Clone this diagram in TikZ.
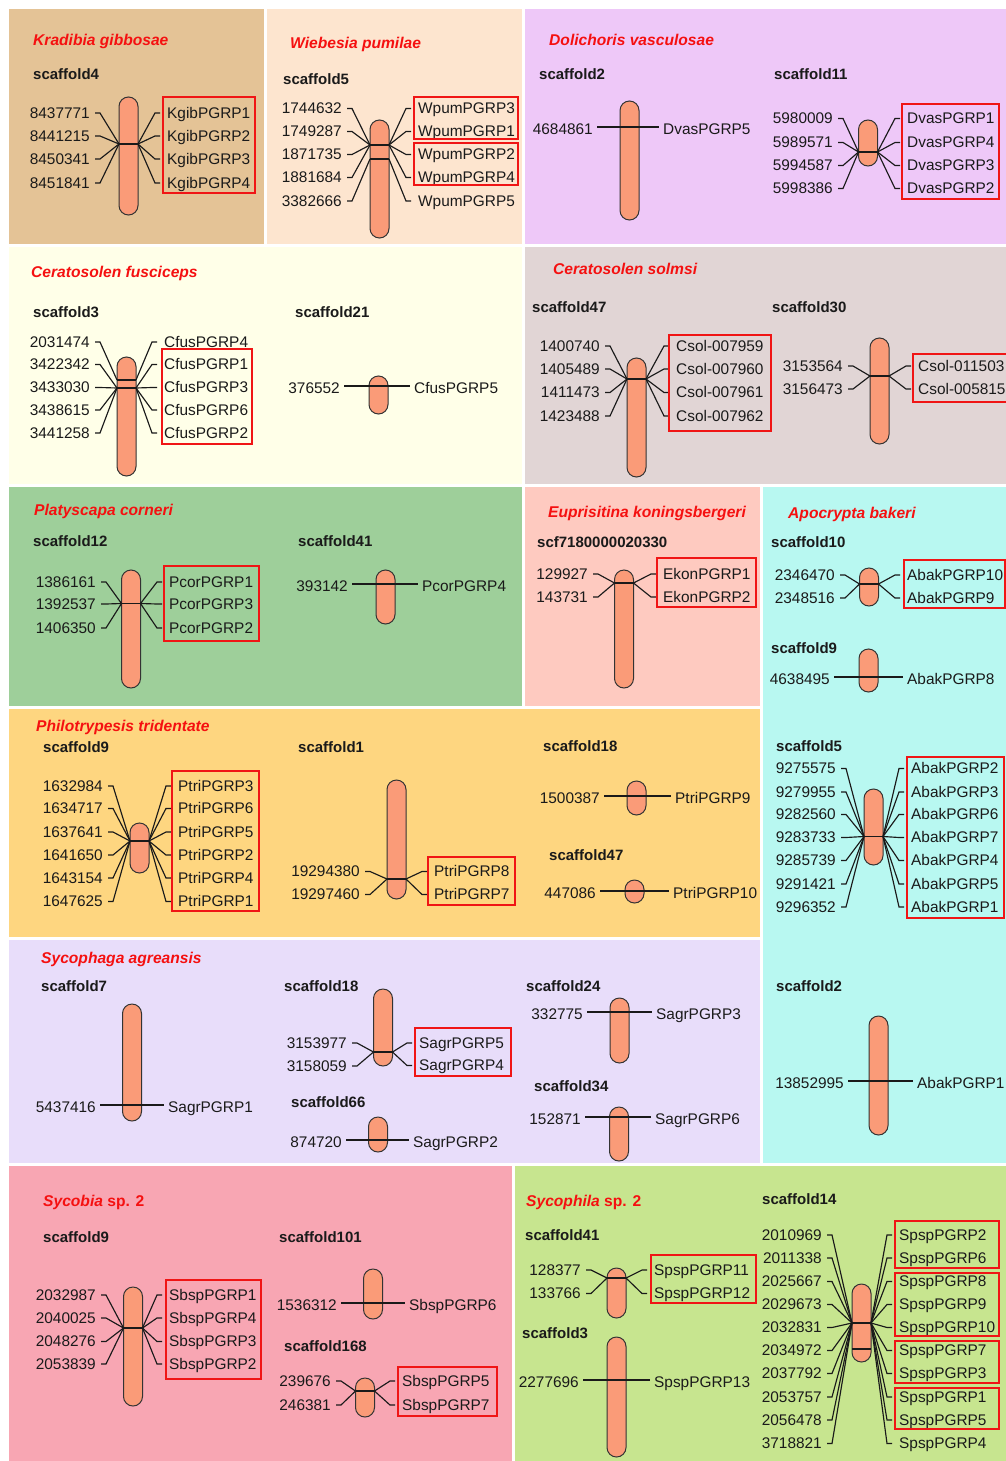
\documentclass[tikz,border=0pt]{standalone}
\usepackage{fontspec}
\setmainfont{Liberation Sans}
\usetikzlibrary{calc}
\definecolor{cK}{HTML}{E4C396}
\definecolor{cW}{HTML}{FDE5CF}
\definecolor{cD}{HTML}{EEC8F8}
\definecolor{cCf}{HTML}{FFFFE8}
\definecolor{cCs}{HTML}{E1D5D5}
\definecolor{cP}{HTML}{9ECF9A}
\definecolor{cE}{HTML}{FECAC0}
\definecolor{cA}{HTML}{B8F8F1}
\definecolor{cPt}{HTML}{FED680}
\definecolor{cS}{HTML}{E8DDFA}
\definecolor{cSb}{HTML}{F8A6B3}
\definecolor{cSp}{HTML}{C7E58F}
\definecolor{chrfill}{HTML}{FA9B78}
\definecolor{chrline}{HTML}{333333}
\definecolor{boxred}{HTML}{F01515}
\definecolor{titred}{HTML}{F51010}
\definecolor{txt}{HTML}{1A1A1A}
\tikzset{
  lab/.style={font=\fontsize{15.4}{18}\selectfont, text=txt, inner sep=0pt, text height=10.9pt, text depth=0pt},
  scf/.style={font=\bfseries\fontsize{15}{17}\selectfont, text=txt, inner sep=0pt, text height=10.7pt, text depth=0pt, anchor=west},
  ttl/.style={font=\bfseries\itshape\fontsize{15.6}{18}\selectfont, text=titred, inner sep=0pt, text height=11pt, text depth=0pt, anchor=west},
  chr/.style={draw=chrline, fill=chrfill, rounded corners=9.5pt, minimum width=19pt, inner sep=0pt, line width=1pt},
  conn/.style={line width=1.15pt, draw=txt},
  redbox/.style={draw=boxred, line width=2pt},
}
\newcommand{\chromo}[4]{\node[chr, minimum height=\the\dimexpr #4pt-#3pt\relax] (#1) at (#2,{(#3+#4)/2}) {};}
\newcommand{\bandat}[4]{%
  \coordinate (#1L) at ({#2-9.5},#3);
  \coordinate (#1R) at ({#2+9.5},#3);
  \draw[line width=#4, draw=txt] (#1L) -- (#1R);}
\newcommand{\llab}[5]{%
  \node[lab, anchor=east] (#1) at (#2,#3) {#4};
  \draw[conn] ([xshift=5pt]#1.east) -- ++(5,0) -- (#5);}
\newcommand{\rlab}[5]{%
  \node[lab, anchor=west] (#1) at (#2,#3) {#4};
  \draw[conn] ([xshift=-7pt]#1.west) -- ++(-5,0) -- (#5);}
\newcommand{\single}[9]{%
  \chromo{#1}{#2}{#3}{#4}
  \node[lab,anchor=east] (#1a) at (#6,#5+2) {#7};
  \node[lab,anchor=west] (#1b) at (#8,#5+2) {#9};
  \draw[conn] ([xshift=4pt,yshift=2pt]#1a.east) -- ([xshift=-4pt,yshift=2pt]#1b.west);}
\begin{document}
\begin{tikzpicture}[x=1pt,y=-1pt]
\useasboundingbox (0,0) rectangle (1006,1461);
\clip (0,0) rectangle (1006,1461);
\fill[white] (0,0) rectangle (1006,1461);
% backgrounds
\fill[cK] (9,9) rectangle (264,244);
\fill[cW] (267,9) rectangle (522,244);
\fill[cD] (525,9) rectangle (1006,244);
\fill[cCf] (9,247) rectangle (522,484);
\fill[cCs] (525,247) rectangle (1006,484);
\fill[cP] (9,487) rectangle (522,706);
\fill[cE] (525,487) rectangle (760,706);
\fill[cA] (763,487) rectangle (1006,1163);
\fill[cPt] (9,709) rectangle (760,937);
\fill[cS] (9,940) rectangle (760,1163);
\fill[cSb] (9,1166) rectangle (512,1461);
\fill[cSp] (515,1166) rectangle (1006,1461);

% ---------- Kradibia gibbosae
\node[ttl] (tK) at (33,40) {Kradibia gibbosae};
\node[scf] (sK4) at (33,74) {scaffold4};
\chromo{k4}{128.5}{97}{215}
\bandat{k4}{128.5}{144}{1.1pt}
\foreach \t/\y [count=\i] in {8437771/113,8441215/136,8450341/159,8451841/183}
  {\llab{k4l\i}{90}{\y}{\t}{k4L}}
\foreach \t/\y [count=\i] in {KgibPGRP1/113,KgibPGRP2/136,KgibPGRP3/159,KgibPGRP4/183}
  {\rlab{k4r\i}{167}{\y}{\t}{k4R}}
\draw[redbox] (163,97) rectangle (255,193);

% ---------- Wiebesia pumilae
\node[ttl] (tW) at (290,43) {Wiebesia pumilae};
\node[scf] (sW5) at (283,79) {scaffold5};
\chromo{w5}{379.5}{120}{238}
\bandat{w5a}{379.5}{145}{2.2pt}
\bandat{w5b}{379.5}{159}{1.1pt}
\foreach \t/\y/\c [count=\i] in {1744632/108.5/w5aL,1749287/131.5/w5aL,1871735/154.5/w5aL,1881684/177.5/w5aL,3382666/201/w5bL}
  {\llab{w5l\i}{342}{\y}{\t}{\c}}
\foreach \t/\y/\c [count=\i] in {WpumPGRP3/108.5/w5aR,WpumPGRP1/131.5/w5aR,WpumPGRP2/154.5/w5aR,WpumPGRP4/177.5/w5aR,WpumPGRP5/201/w5bR}
  {\rlab{w5r\i}{418}{\y}{\t}{\c}}
\draw[redbox] (414,97) rectangle (518,139);
\draw[redbox] (414,143) rectangle (518,185);

% ---------- Dolichoris vasculosae
\node[ttl] (tD) at (549,40) {Dolichoris vasculosae};
\node[scf] (sD2) at (539,74) {scaffold2};
\node[scf] (sD11) at (774,74) {scaffold11};
\single{d2}{629.5}{101}{220}{127}{593}{4684861}{663}{DvasPGRP5}
\chromo{d11}{868}{120}{166}
\bandat{d11}{868}{152}{1.1pt}
\foreach \t/\y [count=\i] in {5980009/118.5,5989571/142.5,5994587/165.5,5998386/188.5}
  {\llab{d11l\i}{833}{\y}{\t}{d11L}}
\foreach \t/\y [count=\i] in {DvasPGRP1/118.5,DvasPGRP4/142.5,DvasPGRP3/165.5,DvasPGRP2/188.5}
  {\rlab{d11r\i}{907}{\y}{\t}{d11R}}
\draw[redbox] (902,104) rectangle (999,199);

% ---------- Ceratosolen fusciceps
\node[ttl] (tCf) at (31,272) {Ceratosolen fusciceps};
\node[scf] (sC3) at (33,312) {scaffold3};
\node[scf] (sC21) at (295,312) {scaffold21};
\chromo{c3}{126.5}{357}{476}
\bandat{c3a}{126.5}{380}{1.1pt}
\bandat{c3b}{126.5}{388}{2pt}
\foreach \t/\y/\c [count=\i] in {2031474/342/c3aL,3422342/364.5/c3bL,3433030/387.5/c3bL,3438615/410/c3bL,3441258/433/c3bL}
  {\llab{c3l\i}{90}{\y}{\t}{\c}}
\foreach \t/\y/\c [count=\i] in {CfusPGRP4/342/c3aR,CfusPGRP1/364.5/c3bR,CfusPGRP3/387.5/c3bR,CfusPGRP6/410/c3bR,CfusPGRP2/433/c3bR}
  {\rlab{c3r\i}{164}{\y}{\t}{\c}}
\draw[redbox] (162,349) rectangle (252,444);
\single{c21}{378.5}{376}{414}{386}{340}{376552}{414}{CfusPGRP5}

% ---------- Ceratosolen solmsi
\node[ttl] (tCs) at (553,269) {Ceratosolen solmsi};
\node[scf] (sS47) at (532,307) {scaffold47};
\node[scf] (sS30) at (772,307) {scaffold30};
\chromo{s47}{636.5}{358}{477}
\bandat{s47}{636.5}{379}{1.1pt}
\foreach \t/\y [count=\i] in {1400740/346,1405489/369,1411473/392.5,1423488/416}
  {\llab{s47l\i}{600}{\y}{\t}{s47L}}
\foreach \t/\y [count=\i] in {Csol-007959/346,Csol-007960/369,Csol-007961/392.5,Csol-007962/416}
  {\rlab{s47r\i}{676}{\y}{\t}{s47R}}
\draw[redbox] (669,335) rectangle (771,431);
\chromo{s30}{879.5}{338}{444}
\bandat{s30}{879.5}{376}{1.1pt}
\foreach \t/\y [count=\i] in {3153564/366,3156473/389}
  {\llab{s30l\i}{843}{\y}{\t}{s30L}}
\foreach \t/\y [count=\i] in {Csol-011503/366,Csol-005815/389}
  {\rlab{s30r\i}{918}{\y}{\t}{s30R}}
\draw[redbox] (913,354) rectangle (1012,402);

% ---------- Platyscapa corneri
\node[ttl] (tP) at (34,510) {Platyscapa corneri};
\node[scf] (sP12) at (33,541) {scaffold12};
\node[scf] (sP41) at (298,541) {scaffold41};
\chromo{p12}{131}{570}{688}
\bandat{p12}{131}{603.5}{1.1pt}
\foreach \t/\y [count=\i] in {1386161/582,1392537/604,1406350/628}
  {\llab{p12l\i}{96}{\y}{\t}{p12L}}
\foreach \t/\y [count=\i] in {PcorPGRP1/582,PcorPGRP3/604,PcorPGRP2/628}
  {\rlab{p12r\i}{169}{\y}{\t}{p12R}}
\draw[redbox] (164,566) rectangle (259,641);
\single{p41}{385.5}{570}{624}{584}{348}{393142}{422}{PcorPGRP4}

% ---------- Euprisitina koningsbergeri
\node[ttl] (tE) at (548,512) {Euprisitina koningsbergeri};
\node[scf] (sE1) at (537,542) {scf7180000020330};
\chromo{e1}{624}{570}{688}
\bandat{e1}{624}{583}{1.1pt}
\foreach \t/\y [count=\i] in {129927/574,143731/597}
  {\llab{e1l\i}{588}{\y}{\t}{e1L}}
\foreach \t/\y [count=\i] in {EkonPGRP1/574,EkonPGRP2/597}
  {\rlab{e1r\i}{663}{\y}{\t}{e1R}}
\draw[redbox] (657,558) rectangle (756,607);

% ---------- Apocrypta bakeri
\node[ttl] (tA) at (788,513) {Apocrypta bakeri};
\node[scf] (sA10) at (771,542) {scaffold10};
\chromo{a10}{869}{568}{606}
\bandat{a10}{869}{584}{1.1pt}
\foreach \t/\y [count=\i] in {2346470/575,2348516/598}
  {\llab{a10l\i}{835}{\y}{\t}{a10L}}
\foreach \t/\y [count=\i] in {AbakPGRP10/575,AbakPGRP9/598}
  {\rlab{a10r\i}{907}{\y}{\t}{a10R}}
\draw[redbox] (904,560) rectangle (1005,608);
\node[scf] (sA9) at (771,648) {scaffold9};
\single{a9}{868.5}{649}{692}{677}{830}{4638495}{907}{AbakPGRP8}
\node[scf] (sA5) at (776,746) {scaffold5};
\chromo{a5}{873.5}{789}{865}
\bandat{a5}{873.5}{836.5}{1.1pt}
\foreach \t/\y [count=\i] in {9275575/768.5,9279955/792,9282560/814.5,9283733/837.5,9285739/860.5,9291421/884,9296352/907}
  {\llab{a5l\i}{836}{\y}{\t}{a5L}}
\foreach \t/\y [count=\i] in {AbakPGRP2/768.5,AbakPGRP3/792,AbakPGRP6/814.5,AbakPGRP7/837.5,AbakPGRP4/860.5,AbakPGRP5/884,AbakPGRP1/907}
  {\rlab{a5r\i}{911}{\y}{\t}{a5R}}
\draw[redbox] (907,757) rectangle (1004,918);
\node[scf] (sA2) at (776,986) {scaffold2};
\single{a2}{878.5}{1016}{1135}{1081}{844}{13852995}{917}{AbakPGRP1}

% ---------- Philotrypesis tridentate
\node[ttl] (tPt) at (36,726) {Philotrypesis tridentate};
\node[scf] (sT9) at (43,747) {scaffold9};
\node[scf] (sT1) at (298,747) {scaffold1};
\chromo{t9}{139.5}{823}{873}
\bandat{t9}{139.5}{841}{1.1pt}
\foreach \t/\y [count=\i] in {1632984/786,1634717/808.5,1637641/832,1641650/855,1643154/878,1647625/901.5}
  {\llab{t9l\i}{103}{\y}{\t}{t9L}}
\foreach \t/\y [count=\i] in {PtriPGRP3/786,PtriPGRP6/808.5,PtriPGRP5/832,PtriPGRP2/855,PtriPGRP4/878,PtriPGRP1/901.5}
  {\rlab{t9r\i}{178}{\y}{\t}{t9R}}
\draw[redbox] (172,771) rectangle (259,911);
\chromo{t1}{396.5}{780}{899}
\bandat{t1}{396.5}{879}{1.1pt}
\foreach \t/\y [count=\i] in {19294380/871.5,19297460/894.5}
  {\llab{t1l\i}{360}{\y}{\t}{t1L}}
\foreach \t/\y [count=\i] in {PtriPGRP8/871.5,PtriPGRP7/894.5}
  {\rlab{t1r\i}{434}{\y}{\t}{t1R}}
\draw[redbox] (428,857) rectangle (515,905);
\node[scf] (sT18) at (543,746) {scaffold18};
\single{t18}{636.5}{781}{815}{796}{600}{1500387}{675}{PtriPGRP9}
\node[scf] (sT47) at (549,855) {scaffold47};
\single{t47}{634.5}{880}{903}{891}{596}{447086}{673}{PtriPGRP10}

% ---------- Sycophaga agreansis
\node[ttl] (tS) at (41,958) {Sycophaga agreansis};
\node[scf] (sG7) at (41,986) {scaffold7};
\node[scf] (sG18) at (284,986) {scaffold18};
\node[scf] (sG66) at (291,1102) {scaffold66};
\node[scf] (sG24) at (526,986) {scaffold24};
\node[scf] (sG34) at (534,1086) {scaffold34};
\single{g7}{132}{1004}{1121}{1105}{96}{5437416}{168}{SagrPGRP1}
\chromo{g18}{383}{989}{1066}
\bandat{g18}{383}{1052}{1.1pt}
\foreach \t/\y [count=\i] in {3153977/1043,3158059/1066}
  {\llab{g18l\i}{347}{\y}{\t}{g18L}}
\foreach \t/\y [count=\i] in {SagrPGRP5/1043,SagrPGRP4/1065.5}
  {\rlab{g18r\i}{419}{\y}{\t}{g18R}}
\draw[redbox] (415,1028) rectangle (511,1076);
\single{g66}{378}{1117}{1152}{1140}{342}{874720}{413}{SagrPGRP2}
\single{g24}{619.5}{998}{1063}{1012}{583}{332775}{656}{SagrPGRP3}
\single{g34}{619}{1107}{1161}{1117}{581}{152871}{655}{SagrPGRP6}

% ---------- Sycobia sp. 2
\node[ttl] (tSb) at (43,1201) {Sycobia \upshape sp. 2};
\node[scf] (sB9) at (43,1237) {scaffold9};
\node[scf] (sB101) at (279,1237) {scaffold101};
\node[scf] (sB168) at (284,1346) {scaffold168};
\chromo{b9}{133}{1287}{1406}
\bandat{b9}{133}{1328}{1.1pt}
\foreach \t/\y [count=\i] in {2032987/1295,2040025/1318,2048276/1341.5,2053839/1364}
  {\llab{b9l\i}{96}{\y}{\t}{b9L}}
\foreach \t/\y [count=\i] in {SbspPGRP1/1295,SbspPGRP4/1318,SbspPGRP3/1341.5,SbspPGRP2/1364}
  {\rlab{b9r\i}{169}{\y}{\t}{b9R}}
\draw[redbox] (166,1280) rectangle (261,1379);
\single{b101}{373}{1269}{1319}{1303}{337}{1536312}{409}{SbspPGRP6}
\chromo{b168}{365}{1378}{1417}
\bandat{b168}{365}{1391}{1.1pt}
\foreach \t/\y [count=\i] in {239676/1381,246381/1405}
  {\llab{b168l\i}{331}{\y}{\t}{b168L}}
\foreach \t/\y [count=\i] in {SbspPGRP5/1381,SbspPGRP7/1405}
  {\rlab{b168r\i}{402}{\y}{\t}{b168R}}
\draw[redbox] (398,1367) rectangle (497,1416);

% ---------- Sycophila sp. 2
\node[ttl] (tSp) at (526,1201) {Sycophila \upshape sp. 2};
\node[scf] (sH14) at (762,1199) {scaffold14};
\node[scf] (sH41) at (525,1235) {scaffold41};
\node[scf] (sH3) at (522,1333) {scaffold3};
\chromo{h41}{616.5}{1268}{1318}
\bandat{h41}{616.5}{1278}{1.1pt}
\foreach \t/\y [count=\i] in {128377/1270,133766/1293.5}
  {\llab{h41l\i}{581}{\y}{\t}{h41L}}
\foreach \t/\y [count=\i] in {SpspPGRP11/1270,SpspPGRP12/1293.5}
  {\rlab{h41r\i}{654}{\y}{\t}{h41R}}
\draw[redbox] (651,1255) rectangle (756,1303);
\single{h3}{616.5}{1337}{1457}{1380}{579}{2277696}{654}{SpspPGRP13}
\chromo{h14}{861.5}{1284}{1362}
\bandat{h14a}{861.5}{1323}{2pt}
\bandat{h14b}{861.5}{1349}{1.1pt}
\foreach \t/\y [count=\i] in {2010969/1235,2011338/1258,2025667/1281.5,2029673/1304.5,2032831/1327.5,2034972/1350.5,2037792/1373.5,2053757/1397,2056478/1420,3718821/1443.5}
  {\llab{h14l\i}{822}{\y}{\t}{h14aL}}
\foreach \t/\y [count=\i] in {SpspPGRP2/1235,SpspPGRP6/1258,SpspPGRP8/1281.5,SpspPGRP9/1304.5,SpspPGRP10/1327.5,SpspPGRP7/1350.5,SpspPGRP3/1373.5,SpspPGRP1/1397,SpspPGRP5/1420,SpspPGRP4/1443.5}
  {\rlab{h14r\i}{899}{\y}{\t}{h14aR}}
\draw[redbox] (895,1221) rectangle (999,1268);
\draw[redbox] (895,1273) rectangle (999,1336);
\draw[redbox] (895,1341) rectangle (999,1383);
\draw[redbox] (895,1388) rectangle (999,1429);
\end{tikzpicture}
\end{document}
